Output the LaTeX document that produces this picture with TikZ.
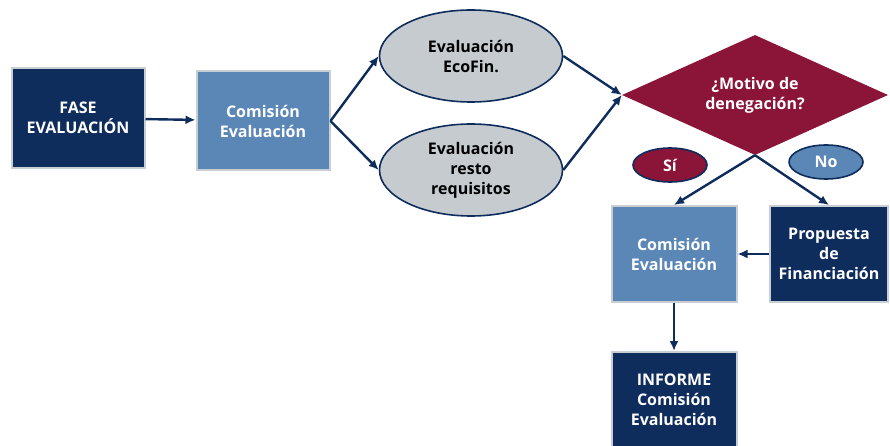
\documentclass[tikz,border=0pt]{standalone}
\usepackage{fontspec}
\setmainfont{Open Sans}
\usepackage{tikz}
\usetikzlibrary{shapes,shapes.geometric}
\usetikzlibrary{arrows,arrows.meta}
\usetikzlibrary{positioning}
\definecolor{azuloscuro}{HTML}{0E2C5C}
\definecolor{azulclaro}{HTML}{5B87B7}
\definecolor{grisclaro}{HTML}{C6CBCF}
\definecolor{bordegris}{HTML}{C9CED4}
\definecolor{granate}{HTML}{8A1538}

\begin{document}
\begin{tikzpicture}[x=1pt,y=-1pt,
	caja/.style={rectangle,draw=bordegris,line width=2pt,text=white,align=center,
		font=\fontsize{16}{20}\selectfont\bfseries,inner sep=2pt},
	elipse/.style={ellipse,draw=azuloscuro,line width=1.6pt,fill=grisclaro,align=center,
		font=\fontsize{16}{20}\selectfont\bfseries,inner sep=0pt,minimum width=183,minimum height=92},
	respuesta/.style={ellipse,draw=azuloscuro,line width=1.6pt,text=white,
		font=\fontsize{16}{20}\selectfont\bfseries,minimum width=74,minimum height=34,inner sep=0pt},
	flecha/.style={-{Latex[length=10pt,width=9pt]},draw=azuloscuro,line width=2.4pt}]
	\useasboundingbox (0,0) rectangle (890,446);
	
	\node[caja,fill=azuloscuro,minimum width=133,minimum height=100] (fase) at (78,118) {FASE\\EVALUACIÓN};
	\node[caja,fill=azulclaro,minimum width=133,minimum height=99] (comA) at (263,121) {Comisión\\Evaluación};
	\node[elipse] (ecofin) at (471,56) {Evaluación\\EcoFin.};
	\node[elipse] (resto) at (471,170) {Evaluación\\resto\\requisitos};
	\node[diamond,fill=granate,text=white,align=center,inner sep=0pt,aspect=2.2,
		minimum width=266,minimum height=120,font=\fontsize{16}{20}\selectfont\bfseries] (motivo) at (755,95) {¿Motivo de\\denegación?};
	\node[respuesta,fill=granate] (si) at (670,165) {Sí};
	\node[respuesta,fill=azulclaro] (no) at (826,162) {No};
	\node[caja,fill=azulclaro,minimum width=125,minimum height=96] (comB) at (674,254) {Comisión\\Evaluación};
	\node[caja,fill=azuloscuro,minimum width=118,minimum height=96] (propuesta) at (829,254) {Propuesta\\de\\Financiación};
	\node[caja,fill=azuloscuro,minimum width=125,minimum height=96] (informe) at (674,400) {INFORME\\Comisión\\Evaluación};
	
	\draw[flecha] (fase) -- (comA);
	\draw[flecha] (comA.east) -- (ecofin.west);
	\draw[flecha] (comA.east) -- (resto.west);
	\draw[flecha] (ecofin.east) -- (motivo.west);
	\draw[flecha] (resto.east) -- (motivo.west);
	\draw[flecha] (motivo.south) -- (comB.north);
	\draw[flecha] (motivo.south) -- (propuesta.north);
	\draw[flecha] (propuesta) -- (comB);
	\draw[flecha] (comB) -- (informe);
\end{tikzpicture}
\end{document}
